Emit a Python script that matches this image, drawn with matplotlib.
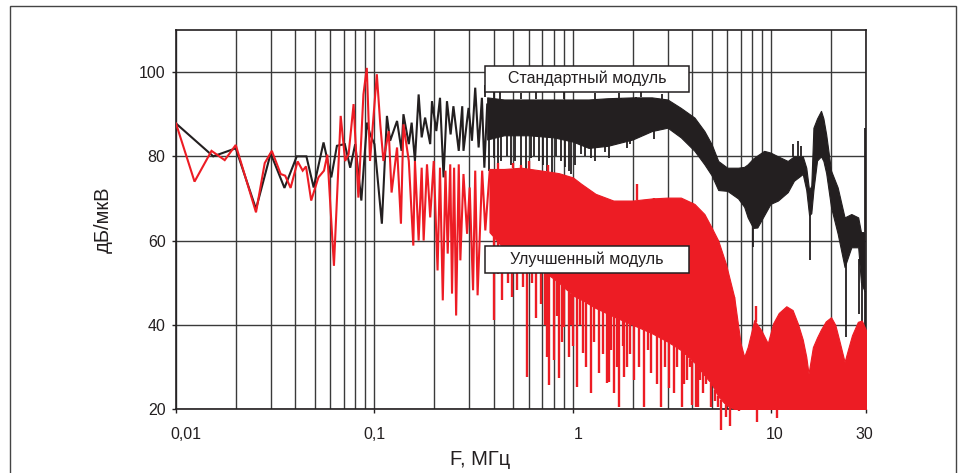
import numpy as np
import matplotlib
matplotlib.use('Agg')
from matplotlib import pyplot as plt
from matplotlib.patches import Rectangle
from matplotlib.ticker import NullFormatter
from matplotlib.transforms import ScaledTranslation

plt.rcParams['font.family'] = ['Liberation Sans', 'DejaVu Sans']

BLACK = '#231f20'
RED = '#ed1c24'
GRID = '#3a3a3a'

# --- "Стандартный модуль" (black) ---
# low-frequency part, point by point, MHz / dBuV
std_f = [0.01, 0.0154, 0.020, 0.0253, 0.030, 0.0352, 0.0406, 0.0454, 0.0494, 0.0554,
         0.0606, 0.0647, 0.0709, 0.0755, 0.080, 0.0859, 0.0917, 0.095, 0.100, 0.109,
         0.1156, 0.120, 0.130, 0.137, 0.140, 0.149, 0.154, 0.160, 0.167, 0.173,
         0.180, 0.191, 0.195, 0.205, 0.214, 0.223, 0.232, 0.242, 0.250, 0.266,
         0.277, 0.281, 0.298, 0.310, 0.322, 0.335, 0.348, 0.358, 0.370]
std_v = [87.8, 80.0, 81.9, 67.5, 80.7, 72.5, 80.0, 80.0, 72.6, 83.3,
         75.0, 82.5, 82.9, 77.3, 82.9, 69.5, 88.0, 85.3, 82.9, 64.0,
         89.6, 83.7, 88.4, 81.3, 90.0, 82.9, 88.0, 78.9, 94.7, 84.5,
         89.2, 82.9, 93.1, 86.0, 93.9, 75.0, 93.1, 85.2, 91.9, 81.3,
         91.9, 81.3, 91.5, 83.7, 96.3, 82.1, 93.9, 77.3, 92.3]
# dense part: envelope of the band
std_band_f = [0.37, 0.45, 0.6, 0.8, 1.0, 1.2, 1.5, 2.0, 2.5, 3.0,
              3.5, 4.1, 4.6, 5.0, 5.4, 6.0, 6.8, 7.3, 7.6, 8.1,
              8.5, 9.2, 9.9, 10.8, 12.1, 13.0, 14.4, 15.0, 15.5, 15.9,
              16.3, 17.0, 17.8, 18.3, 18.9, 20.0, 21.6, 23.4, 25.3, 27.4,
              28.3, 29.5]
std_band_hi = [94.0, 93.5, 93.5, 93.5, 93.5, 93.5, 93.8, 94.0, 94.0, 93.5,
               91.5, 89.2, 86.0, 82.9, 78.9, 77.3, 77.3, 77.5, 78.1, 79.5,
               80.2, 81.3, 80.9, 80.0, 78.9, 80.0, 80.0, 77.3, 72.0, 73.0,
               86.8, 89.0, 90.8, 89.0, 85.2, 76.6, 72.6, 65.5, 66.3, 65.5,
               62.0, 62.0]
std_band_lo = [84.0, 85.0, 85.0, 84.5, 83.5, 82.0, 82.5, 84.0, 86.0, 86.8,
               84.5, 81.3, 78.1, 75.5, 72.0, 71.8, 70.0, 68.0, 65.5, 63.0,
               63.1, 66.0, 68.7, 69.5, 71.5, 74.2, 75.8, 72.0, 66.0, 66.5,
               72.0, 79.0, 80.0, 78.9, 76.0, 67.9, 61.6, 53.7, 58.4, 58.4,
               50.0, 48.0]
# single spikes sticking out of the band (down from the lower edge, up from the upper)
std_spike_f = [0.38, 0.399, 0.42, 0.432, 0.466, 0.49, 0.513, 0.545, 0.58, 0.612,
               0.64, 0.674, 0.71, 0.743, 0.787, 0.82, 0.867, 0.91, 0.954, 0.973,
               1.02, 1.094, 1.15, 1.228, 1.30, 1.38, 1.45, 1.52, 1.60, 1.74,
               1.88, 1.95, 2.07, 2.3, 2.55, 8.1, 12.8, 13.6, 14.1, 15.6,
               23.9, 27.7, 28.5, 29.8,
               0.36, 0.40, 0.43, 0.55, 0.65, 0.9, 1.3, 1.7, 2.2, 2.8, 29.8]
std_spike_v = [76.6, 79.7, 77.0, 78.9, 80.0, 78.0, 78.9, 75.0, 77.0, 79.7,
               80.0, 78.9, 78.0, 76.6, 75.0, 80.0, 78.9, 77.5, 76.6, 75.8,
               78.0, 80.5, 80.0, 79.7, 78.9, 82.1, 81.0, 79.5, 83.0, 84.0,
               82.0, 83.0, 84.5, 85.0, 84.0, 58.4, 83.0, 83.7, 82.5, 55.3,
               37.1, 42.6, 40.0, 38.7,
               97.0, 96.5, 95.5, 95.0, 95.5, 95.5, 95.0, 95.0, 95.2, 94.8, 86.8]

# --- "Улучшенный модуль" (red) ---
imp_f = [0.01, 0.0124, 0.0151, 0.0176, 0.0200, 0.0253, 0.0280, 0.0304, 0.0337, 0.0355,
         0.0378, 0.0410, 0.0435, 0.0452, 0.0480, 0.0522, 0.0557, 0.0579, 0.0625, 0.0676,
         0.0712, 0.0741, 0.0785, 0.0830, 0.0880, 0.0915, 0.0950, 0.1028, 0.107, 0.111,
         0.118, 0.122, 0.130, 0.136, 0.140, 0.149, 0.157, 0.160, 0.167, 0.173,
         0.177, 0.184, 0.191, 0.199, 0.208, 0.214, 0.221, 0.228, 0.234, 0.241,
         0.246, 0.252, 0.258, 0.266, 0.271, 0.281, 0.293, 0.302, 0.314, 0.322,
         0.331, 0.349, 0.362, 0.381]
imp_v = [87.8, 74.0, 81.3, 79.1, 82.7, 66.7, 78.4, 81.3, 75.8, 75.4,
         72.5, 78.8, 76.6, 77.6, 69.5, 75.0, 76.6, 80.4, 54.0, 89.6,
         78.9, 80.5, 92.4, 70.2, 94.7, 101.0, 78.9, 99.5, 87.6, 78.9,
         86.0, 71.4, 82.1, 64.0, 87.6, 78.9, 58.8, 78.9, 60.0, 77.3,
         60.0, 78.1, 65.5, 78.9, 52.9, 77.3, 45.8, 76.6, 56.9, 78.1,
         47.4, 77.3, 42.2, 78.1, 55.3, 75.8, 61.6, 72.6, 48.2, 76.6,
         47.0, 76.6, 62.4, 76.6]
imp_band_f = [0.38, 0.45, 0.55, 0.7, 0.85, 1.0, 1.1, 1.3, 1.6, 2.0,
              2.5, 3.0, 3.5, 4.1, 4.6, 5.0, 5.4, 5.9, 6.5, 7.0,
              7.3, 7.6, 8.2, 8.9, 9.6, 10.2, 10.9, 11.9, 12.8, 13.6,
              14.4, 15.0, 15.4, 16.2, 17.0, 17.8, 18.8, 20.0, 21.0, 22.0,
              23.4, 24.3, 25.5, 27.3, 28.6, 30.0]
imp_band_hi = [77.0, 77.0, 77.3, 76.6, 76.0, 75.0, 73.5, 71.1, 69.5, 69.5,
               70.0, 70.2, 70.2, 68.7, 66.3, 63.1, 60.0, 54.5, 46.6, 35.6,
               32.4, 34.7, 41.1, 38.7, 35.6, 40.3, 42.8, 44.4, 43.5, 40.3,
               36.5, 32.4, 28.4, 34.7, 37.0, 38.9, 40.8, 41.8, 40.0, 36.3,
               31.2, 34.0, 37.5, 40.7, 41.0, 38.7]
imp_band_lo = [62.0, 58.0, 56.0, 53.0, 50.0, 47.0, 46.0, 44.0, 42.0, 40.0,
               38.0, 36.0, 34.0, 31.0, 28.0, 26.0, 23.0, 21.0, 20.0, 20.0,
               20.0, 20.0, 20.0, 20.0, 20.0, 20.0, 20.0, 20.0, 20.0, 20.0,
               20.0, 20.0, 20.0, 20.0, 20.0, 20.0, 20.0, 20.0, 20.0, 20.0,
               20.0, 20.0, 20.0, 20.0, 20.0, 20.0]
imp_spike_f = [0.40, 0.42, 0.44, 0.47, 0.495, 0.52, 0.56, 0.59, 0.62, 0.65,
               0.69, 0.72, 0.743, 0.76, 0.80, 0.83, 0.85, 0.88, 0.90, 0.954,
               0.98, 1.0, 1.05, 1.08, 1.12, 1.17, 1.23, 1.28, 1.35, 1.42,
               1.49, 1.52, 1.56, 1.61, 1.66, 1.71, 1.78, 1.81, 1.88, 1.95,
               2.03, 2.15, 2.28, 2.38, 2.47, 2.56, 2.65, 2.77, 2.9, 3.05,
               3.23, 3.35, 3.56, 3.65, 3.78, 3.9, 4.0, 4.16, 4.25, 4.35,
               4.5, 4.7, 4.96, 5.2, 5.4, 5.6, 5.89, 6.2, 6.5, 6.9,
               8.5, 10.7,
               2.11, 8.35, 0.42, 0.5, 0.55, 0.6, 0.75]
imp_spike_v = [41.1, 52.0, 45.8, 50.0, 46.6, 48.2, 49.0, 27.6, 50.0, 41.5,
               45.0, 40.0, 32.4, 25.7, 31.6, 42.0, 27.3, 36.0, 39.5, 32.4,
               40.0, 35.0, 25.3, 40.0, 33.2, 30.0, 23.8, 36.0, 28.5, 33.0,
               26.1, 26.5, 34.0, 23.8, 30.0, 20.5, 35.0, 27.6, 30.0, 33.0,
               26.9, 30.0, 20.5, 34.0, 28.5, 38.0, 26.0, 20.5, 30.0, 25.0,
               23.8, 30.0, 20.5, 26.0, 26.9, 30.0, 21.0, 20.5, 20.5, 27.0,
               23.8, 26.0, 20.5, 22.0, 20.5, 15.0, 18.2, 16.0, 20.5, 19.5,
               17.0, 17.8,
               73.5, 44.5, 78.5, 78.5, 78.0, 78.8, 78.0]

x_major = [0.01, 0.1, 1, 10, 30]
x_major_labels = ['0,01', '0,1', '1', '10', '30']
y_major = [20, 40, 60, 80, 100]


def spike_base(f, v, band_f, band_lo, band_hi):
    lf = np.log10(f)
    lo = np.interp(lf, np.log10(band_f), band_lo)
    hi = np.interp(lf, np.log10(band_f), band_hi)
    return np.where(np.array(v) < lo, lo, hi)


def draw_series(ax, f, v, band_f, band_lo, band_hi, sp_f, sp_v, color, z, sp_lw):
    ax.plot(f, v, color=color, lw=1.5, zorder=z, solid_joinstyle='miter')
    ax.fill_between(band_f, band_lo, band_hi, color=color, lw=0.8, zorder=z)
    base = spike_base(sp_f, sp_v, band_f, band_lo, band_hi)
    vl = ax.vlines(sp_f, base, sp_v, color=color, lw=sp_lw, zorder=z)
    vl.set_clip_on(False)


fig = plt.figure(figsize=(9.59, 4.73), dpi=100)
ax = fig.add_axes([176 / 959, 1 - 409 / 473, 690 / 959, 379 / 473])
ax.set_xscale('log')

draw_series(ax, std_f, std_v, std_band_f, std_band_lo, std_band_hi,
            std_spike_f, std_spike_v, BLACK, 3, 1.3)
draw_series(ax, imp_f, imp_v, imp_band_f, imp_band_lo, imp_band_hi,
            imp_spike_f, imp_spike_v, RED, 4, 1.7)

ax.set_xlim(0.01, 30)
ax.set_ylim(20, 110)

minors = [m * 10.0 ** e for e in (-2, -1, 0, 1) for m in range(2, 10) if m * 10.0 ** e < 30]
ax.set_xticks(x_major, labels=x_major_labels)
ax.set_xticks(minors, minor=True)
ax.xaxis.set_minor_formatter(NullFormatter())
ax.set_yticks(y_major)

ax.set_axisbelow(True)
ax.grid(True, which='both', axis='x', color=GRID, lw=1.0)
ax.grid(True, which='major', axis='y', color=GRID, lw=1.0)

ax.tick_params(which='major', length=3, width=1, color=BLACK, labelsize=11.5,
               labelcolor=BLACK, direction='out')
ax.tick_params(axis='x', which='major', pad=10)
ax.tick_params(axis='y', which='major', pad=4.5)
ax.tick_params(which='minor', length=0)
for s in ax.spines.values():
    s.set_color(BLACK)
    s.set_linewidth(1.2)

# the tick labels in the original sit a little off the grid lines
for lab, dx in zip(ax.get_xticklabels(), [10, 0, 5, 3, -2]):
    lab.set_transform(lab.get_transform() + ScaledTranslation(dx / 100, 0, fig.dpi_scale_trans))

ax.set_xlabel('F, МГц', fontsize=14.5, color=BLACK)
ax.xaxis.set_label_coords((480 - 176) / 690, -(450 - 409) / 379)
ax.set_ylabel('дБ/мкВ', fontsize=14.5, color=BLACK)
ax.yaxis.set_label_coords(-(176 - 113) / 690, 0.5)

# labelled boxes
boxes = [('Стандартный модуль', 65.7, 91.7), ('Улучшенный модуль', 246.0, 272.7)]
x0 = (484.7 - 176) / 690
x1 = (689 - 176) / 690
for text, top, bot in boxes:
    yt = 1 - (top - 30) / 379
    yb = 1 - (bot - 30) / 379
    ax.add_patch(Rectangle((x0, yb), x1 - x0, yt - yb, transform=ax.transAxes,
                           fc='white', ec=BLACK, lw=1.1, zorder=6))
    ax.text((x0 + x1) / 2, (yt + yb) / 2, text, transform=ax.transAxes,
            ha='center', va='center', fontsize=11.5, color=BLACK, zorder=7)

# outer frame of the figure (bottom edge is cut off)
fig.add_artist(Rectangle((10 / 959, -0.05), 946 / 959, 1 - 6 / 473 + 0.05,
                         transform=fig.transFigure, fill=False, ec='#444444', lw=1.0))

plt.savefig('out.png', dpi=100)
plt.close()
